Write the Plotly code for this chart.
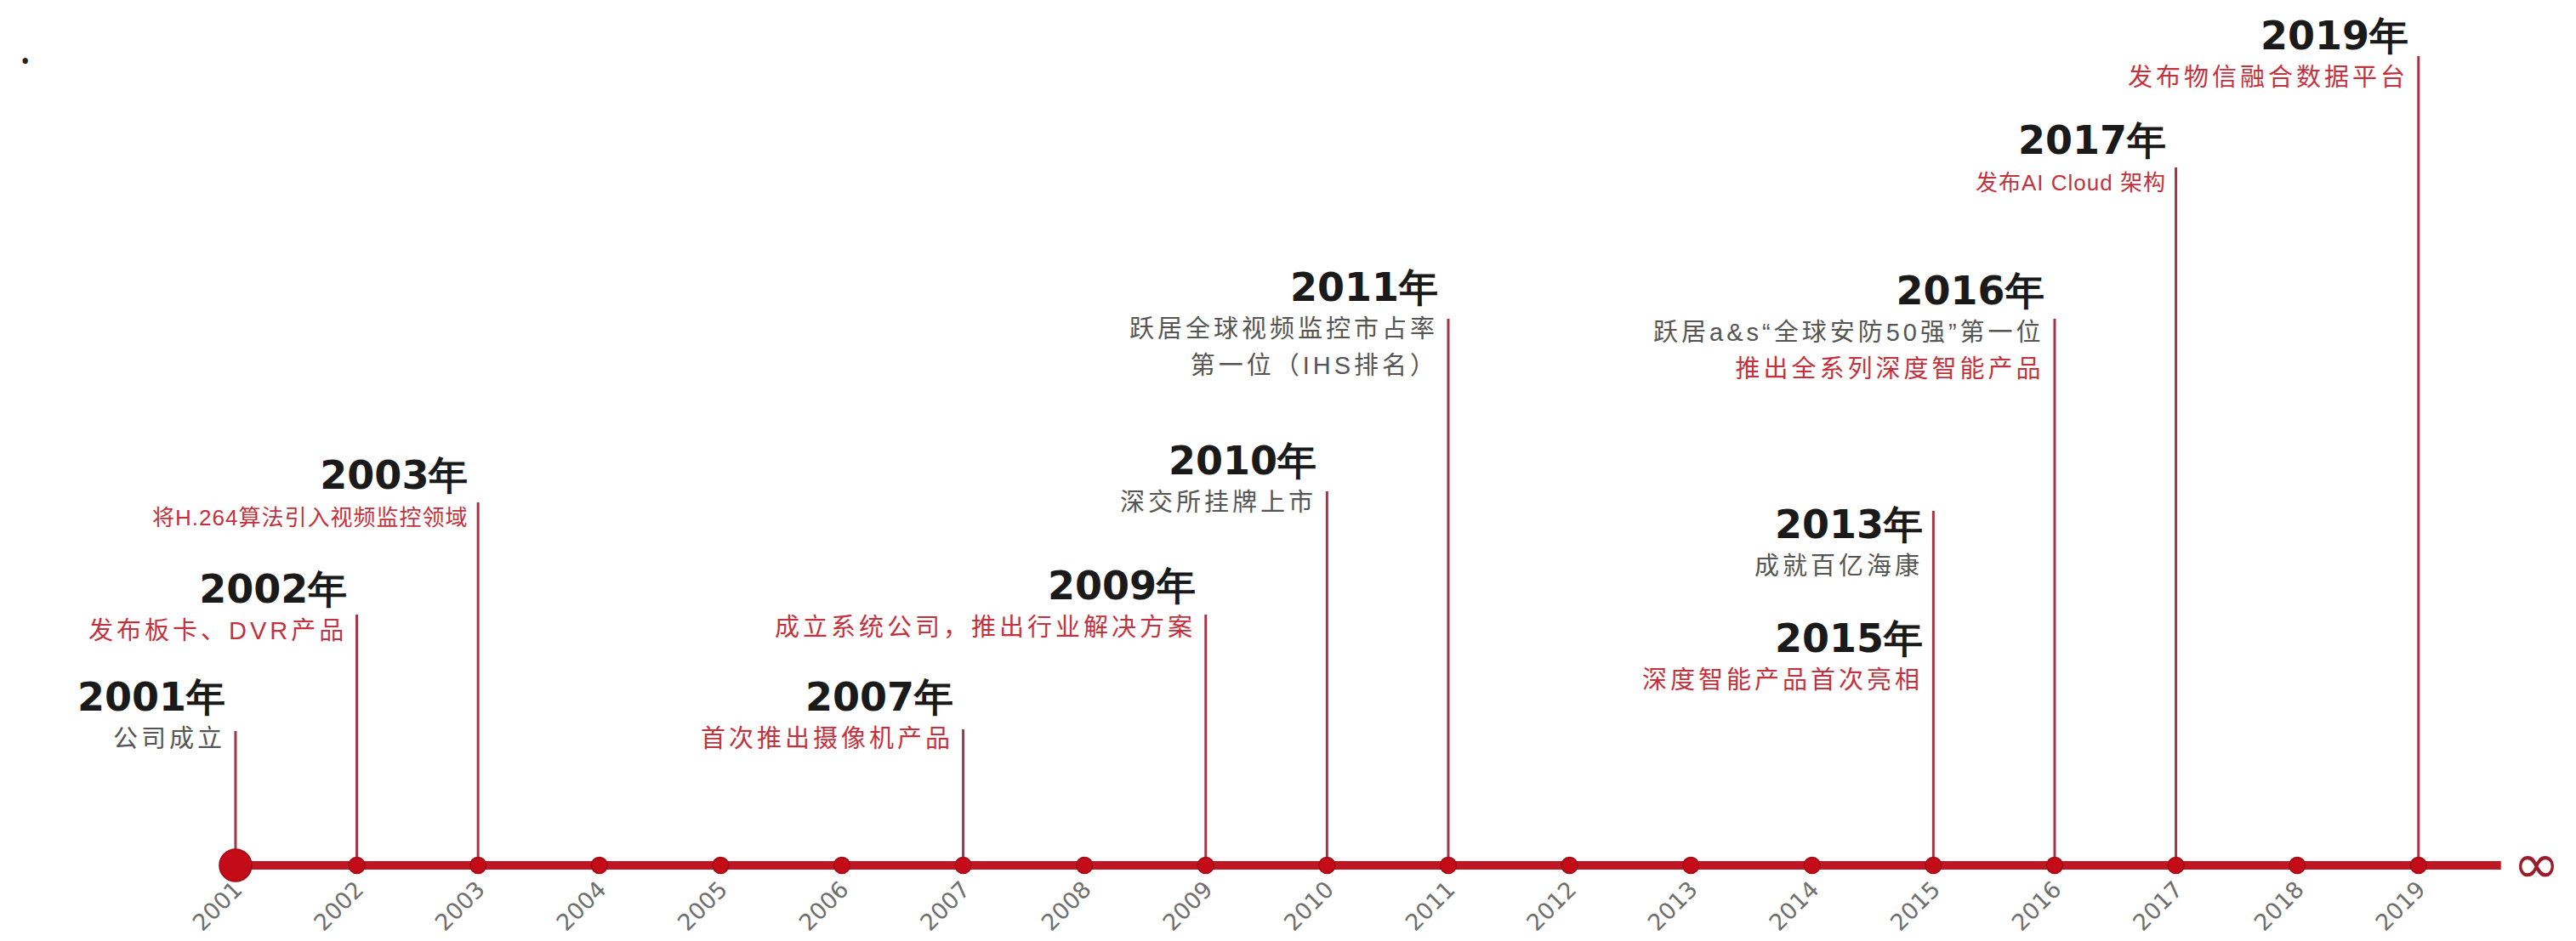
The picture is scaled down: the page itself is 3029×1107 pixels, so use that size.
import plotly.graph_objects as go

# ---- data ----
years = list(range(2001, 2020))
tick_labels = [str(y) for y in years]

event_years = [2001, 2002, 2003, 2007, 2009, 2010, 2011, 2015, 2016, 2017, 2019]
event_line_heights = [158, 295, 427, 160, 295, 440, 643, 417, 643, 821, 952]

label_anchor_years = [2001, 2002, 2003, 2007, 2009, 2010, 2011, 2015, 2015, 2016, 2017, 2019]
label_titles = ["2001年", "2002年", "2003年", "2007年", "2009年", "2010年", "2011年",
                "2013年", "2015年", "2016年", "2017年", "2019年"]
label_lines = [
    [("公司成立", "gray")],
    [("发布板卡、DVR产品", "red")],
    [("将H.264算法引入视频监控领域", "red")],
    [("首次推出摄像机产品", "red")],
    [("成立系统公司，推出行业解决方案", "red")],
    [("深交所挂牌上市", "gray")],
    [("跃居全球视频监控市占率", "gray"), ("第一位（IHS排名）", "gray")],
    [("成就百亿海康", "gray")],
    [("深度智能产品首次亮相", "red")],
    [("跃居a&s“全球安防50强”第一位", "gray"), ("推出全系列深度智能产品", "red")],
    [("发布AI Cloud 架构", "red")],
    [("发布物信融合数据平台", "red")],
]
# layout: vertical centre of each title (px above the axis)
title_y = [193, 320, 454, 193, 324, 471, 676, 396, 262, 672, 848, 971]
# per-label subtitle font size / letter spacing (styles)
sub_size = [29, 29, 26, 29, 29, 29, 29, 29, 29, 29, 26, 29]
sub_spacing = [4, 4, 1, 4, 4, 4, 4, 4, 4, 4, 1, 4]

# ---- styles ----
AXIS_RED = "#BE1622"
STEM = "#A63446"
SUB_RED = "#C2323E"
SUB_GRAY = "#555555"
TITLE_FONT = "DejaVu Sans"
SUB_FONT = "Liberation Sans, Noto Sans CJK SC"
LINE_STEP = 45  # px between text lines
TITLE_SIZE = 46

fig = go.Figure()

# stems
for yr, h in zip(event_years, event_line_heights):
    fig.add_trace(go.Scatter(x=[yr, yr], y=[0, h], mode="lines",
                             line=dict(color=STEM, width=3), hoverinfo="skip",
                             showlegend=False))

# main axis line
fig.add_trace(go.Scatter(x=[years[0], years[-1] + 0.68], y=[0, 0], mode="lines",
                         line=dict(color=AXIS_RED, width=10), hoverinfo="skip",
                         showlegend=False))

# dots
sizes = [38] + [19] * (len(years) - 1)
fig.add_trace(go.Scatter(x=years, y=[0] * len(years), mode="markers",
                         marker=dict(color="#C40C18", size=sizes, opacity=1,
                                     line=dict(width=1.5, color="#A00A14")),
                         cliponaxis=False, showlegend=False))

annotations = []
for i, yr in enumerate(label_anchor_years):
    parts = [f'<span style="font-family:{TITLE_FONT};font-size:{TITLE_SIZE}px;'
             f'font-weight:bold;color:#1a1a1a">{label_titles[i]}</span>']
    for txt, col in label_lines[i]:
        c = SUB_RED if col == "red" else SUB_GRAY
        parts.append(f'<span style="color:{c};font-size:{sub_size[i]}px;'
                     f'letter-spacing:{sub_spacing[i]}px">{txt}</span>')
    n = len(parts)
    yc = title_y[i] - (n - 1) * LINE_STEP / 2 + 9
    annotations.append(dict(x=yr, y=yc, xref="x", yref="y", text="<br>".join(parts),
                            showarrow=False, xanchor="right", yanchor="middle", align="right",
                            xshift=-10,
                            font=dict(family=SUB_FONT, size=33, color=SUB_GRAY)))

# infinity symbol
annotations.append(dict(x=years[-1] + 0.97, y=0, xref="x", yref="y", text="∞", showarrow=False,
                        xanchor="center", yanchor="middle", yshift=2,
                        font=dict(family="DejaVu Sans", size=66, color="#9B1B2A")))
# stray dot at top-left
annotations.append(dict(x=14 / 3029, y=1 - 44 / 1107, xref="paper", yref="paper", text="•",
                        showarrow=False, font=dict(size=30, color="#222")))

fig.update_layout(
    width=3029, height=1107,
    margin=dict(l=0, r=0, t=0, b=91),
    paper_bgcolor="white", plot_bgcolor="white",
    xaxis=dict(range=[1999.114, 2020.355], tickmode="array", tickvals=years,
               ticktext=tick_labels, tickangle=-45, showgrid=False, zeroline=False,
               showline=False, ticks="", tickfont=dict(family="DejaVu Sans", size=27, color="#6e6e6e")),
    yaxis=dict(range=[-6, 1010], visible=False, showgrid=False, zeroline=False),
    annotations=annotations,
    showlegend=False,
)

fig.write_html("out.html")
